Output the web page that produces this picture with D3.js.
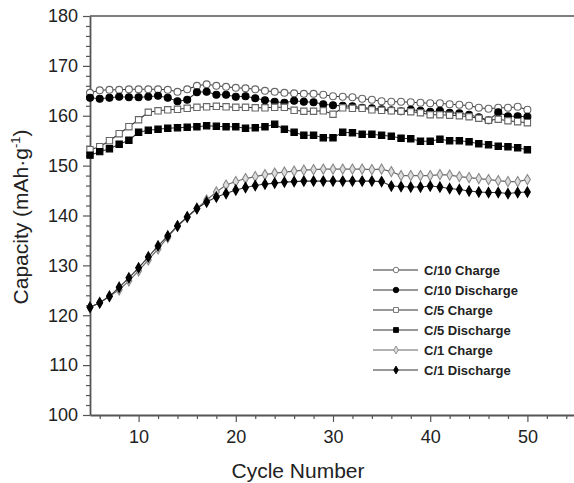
<!DOCTYPE html>
<html>
<head>
<meta charset="utf-8">
<script src="https://cdn.jsdelivr.net/npm/d3@7"></script>
<style>
  body { margin: 0; background: #fff; }
  svg { display: block; font-family: "Liberation Sans", Arial, sans-serif; }
</style>
</head>
<body>
<script>
const W = 574;
const H = 483;

// cycle numbers 5..50
const cycles = d3.range(5, 51);

const c10Charge = [164.6, 165.1, 165.2, 165.2, 165.3, 165.3, 165.3, 165.3, 165.2, 164.8,
  165.3, 166.0, 166.3, 166.0, 165.8, 165.6, 165.5, 165.3, 165.0, 164.8,
  164.6, 164.5, 164.4, 164.4, 164.2, 163.9, 163.8, 163.7, 163.4, 163.2,
  162.9, 162.8, 162.8, 162.7, 162.6, 162.5, 162.5, 162.3, 162.2, 162.0,
  161.6, 161.4, 161.6, 161.6, 161.8, 161.2];
const c10Discharge = [163.6, 163.4, 163.6, 163.8, 163.7, 163.7, 163.8, 164.0, 163.6, 162.9,
  163.2, 164.7, 164.8, 164.2, 164.2, 163.8, 163.9, 163.5, 163.1, 162.8,
  162.6, 163.0, 162.8, 162.7, 162.3, 162.1, 162.0, 161.9, 161.6, 161.5,
  161.3, 161.1, 160.9, 161.2, 161.0, 160.8, 161.0, 160.6, 160.5, 160.2,
  159.7, 159.1, 160.7, 159.9, 159.9, 159.8];
const c5Charge = [153.2, 153.8, 155.0, 156.4, 157.8, 159.2, 160.7, 161.0, 161.2, 161.3,
  161.5, 161.7, 161.8, 161.9, 161.8, 161.7, 161.7, 161.6, 161.6, 161.7,
  161.7, 161.1, 160.9, 160.9, 161.0, 160.3, 161.6, 161.5, 161.5, 161.2,
  161.1, 161.0, 160.9, 160.8, 160.6, 160.2, 160.2, 160.1, 160.0, 159.8,
  159.5, 159.1, 159.3, 159.0, 158.8, 158.6];
const c5Discharge = [152.1, 152.8, 153.4, 154.3, 155.1, 156.7, 157.1, 157.3, 157.5, 157.6,
  157.7, 157.8, 158.0, 157.9, 157.8, 157.8, 157.5, 157.6, 157.8, 158.3,
  157.3, 156.7, 156.1, 156.1, 155.6, 155.6, 156.7, 156.6, 156.3, 156.3,
  156.1, 155.9, 155.5, 155.4, 154.9, 154.9, 155.3, 155.0, 155.0, 154.8,
  154.4, 154.2, 153.9, 153.8, 153.6, 153.2];
const c1Charge = [121.6, 122.5, 123.8, 125.1, 126.9, 128.9, 131.1, 133.3, 135.6, 137.9,
  139.7, 141.4, 143.1, 144.7, 146.1, 146.8, 147.4, 147.8, 148.2, 148.5,
  148.7, 148.9, 149.1, 149.2, 149.3, 149.3, 149.3, 149.3, 149.3, 149.2,
  149.3, 148.8, 148.0, 148.0, 148.0, 148.0, 148.2, 148.1, 147.8, 147.6,
  147.4, 147.2, 147.0, 146.8, 146.8, 147.2];
const c1Discharge = [121.6, 122.5, 123.8, 125.6, 127.5, 129.5, 131.7, 133.9, 135.9, 137.9,
  139.7, 141.4, 142.7, 143.7, 144.4, 145.1, 145.6, 146.0, 146.3, 146.5,
  146.7, 146.8, 146.9, 146.9, 146.9, 146.9, 146.9, 146.9, 146.9, 146.9,
  146.8, 145.9, 145.8, 145.7, 145.7, 145.9, 145.7, 145.4, 145.2, 144.9,
  144.7, 144.6, 144.6, 144.4, 144.6, 144.7];

const seriesNames = ["C/10 Charge", "C/10 Discharge", "C/5 Charge", "C/5 Discharge", "C/1 Charge", "C/1 Discharge"];
const seriesValues = [c10Charge, c10Discharge, c5Charge, c5Discharge, c1Charge, c1Discharge];

const xMajor = [10, 20, 30, 40, 50];
const yMajor = [100, 110, 120, 130, 140, 150, 160, 170, 180];

// marker styles per series (size = chart marker, lsize = legend marker)
const styles = [
  { shape: d3.symbolCircle, size: 38, fill: "#fff", stroke: "#666", lsize: 24 },
  { shape: d3.symbolCircle, size: 38, fill: "#000", stroke: "#000", lsize: 24 },
  { shape: d3.symbolSquare, size: 40, fill: "#fff", stroke: "#666", lsize: 24 },
  { shape: d3.symbolSquare, size: 40, fill: "#000", stroke: "#000", lsize: 24 },
  { shape: d3.symbolDiamond, size: 30, fill: "#ddd", stroke: "#888", lsize: 18 },
  { shape: d3.symbolDiamond, size: 30, fill: "#000", stroke: "#000", lsize: 18 },
];

const x = d3.scaleLinear().domain([5, 55]).range([90, 576]);
const y = d3.scaleLinear().domain([100, 180]).range([415, 16]);

const svg = d3.select("body").append("svg")
  .attr("width", W)
  .attr("height", H);

const axisColor = "#555";

// minor ticks first
const xMinor = d3.range(6, 55, 2).filter(v => v % 10 !== 0);
const yMinor = d3.range(102, 180, 2).filter(v => v % 10 !== 0);

svg.append("g")
  .attr("transform", `translate(0,${y(100)})`)
  .call(d3.axisBottom(x).tickValues(xMinor).tickSize(4).tickFormat(""))
  .call(g => g.select(".domain").remove())
  .call(g => g.selectAll("line").attr("stroke", axisColor).attr("stroke-width", 1.2));

svg.append("g")
  .attr("transform", `translate(${x(5)},0)`)
  .call(d3.axisLeft(y).tickValues(yMinor).tickSize(4).tickFormat(""))
  .call(g => g.select(".domain").remove())
  .call(g => g.selectAll("line").attr("stroke", axisColor).attr("stroke-width", 1.2));

const xAxis = svg.append("g")
  .attr("transform", `translate(0,${y(100)})`)
  .call(d3.axisBottom(x).tickValues(xMajor).tickSize(7).tickSizeOuter(0).tickPadding(8));

const yAxis = svg.append("g")
  .attr("transform", `translate(${x(5)},0)`)
  .call(d3.axisLeft(y).tickValues(yMajor).tickSize(7).tickSizeOuter(0).tickPadding(5));

[xAxis, yAxis].forEach(g => {
  g.select(".domain").attr("stroke", axisColor).attr("stroke-width", 1.8);
  g.selectAll(".tick line").attr("stroke", axisColor).attr("stroke-width", 1.2);
  g.selectAll(".tick text")
    .attr("fill", "#222")
    .style("font-family", "'Liberation Sans', Arial, sans-serif")
    .style("font-size", "18px");
});

// top frame line
svg.append("line")
  .attr("x1", x(5)).attr("x2", W)
  .attr("y1", y(180)).attr("y2", y(180))
  .attr("stroke", axisColor)
  .attr("stroke-width", 1.5);

// axis titles
svg.append("text")
  .attr("x", 298)
  .attr("y", 478)
  .attr("text-anchor", "middle")
  .attr("fill", "#222")
  .style("font-size", "21px")
  .text("Cycle Number");

const yTitle = svg.append("text")
  .attr("transform", "translate(28,217) rotate(-90)")
  .attr("text-anchor", "middle")
  .attr("fill", "#222")
  .style("font-size", "21px");
yTitle.append("tspan").text("Capacity (mAh\u00b7g");
yTitle.append("tspan").attr("dy", -8).style("font-size", "13px").text("-1");
yTitle.append("tspan").attr("dy", 8).text(")");

// series
const line = d3.line()
  .x((d, i) => x(cycles[i]))
  .y(d => y(d));

const plot = svg.append("g");

seriesValues.forEach((vals, k) => {
  const st = styles[k];
  const g = plot.append("g");
  g.append("path")
    .datum(vals)
    .attr("d", line)
    .attr("fill", "none")
    .attr("stroke", k === 4 ? "#666" : "#333")
    .attr("stroke-width", 1.1);
  g.selectAll("path.m")
    .data(vals)
    .join("path")
    .attr("class", "m")
    .attr("transform", (d, i) => `translate(${x(cycles[i])},${y(d)})`)
    .attr("d", d3.symbol().type(st.shape).size(st.size))
    .attr("fill", st.fill)
    .attr("stroke", st.stroke)
    .attr("stroke-width", 1.1);
});

// legend
const legend = svg.append("g").attr("transform", "translate(373,270)");
seriesNames.forEach((name, k) => {
  const st = styles[k];
  const row = legend.append("g").attr("transform", `translate(0,${k * 20})`);
  row.append("line")
    .attr("x1", 0).attr("x2", 45)
    .attr("stroke", k === 4 ? "#666" : "#333")
    .attr("stroke-width", 1.1);
  row.append("path")
    .attr("transform", "translate(23,0)")
    .attr("d", d3.symbol().type(st.shape).size(st.lsize))
    .attr("fill", st.fill)
    .attr("stroke", st.stroke)
    .attr("stroke-width", 0.9);
  row.append("text")
    .attr("x", 51)
    .attr("y", 5)
    .attr("fill", "#222")
    .style("font-size", "13px")
    .style("font-weight", "bold")
    .text(name);
});
</script>
</body>
</html>
